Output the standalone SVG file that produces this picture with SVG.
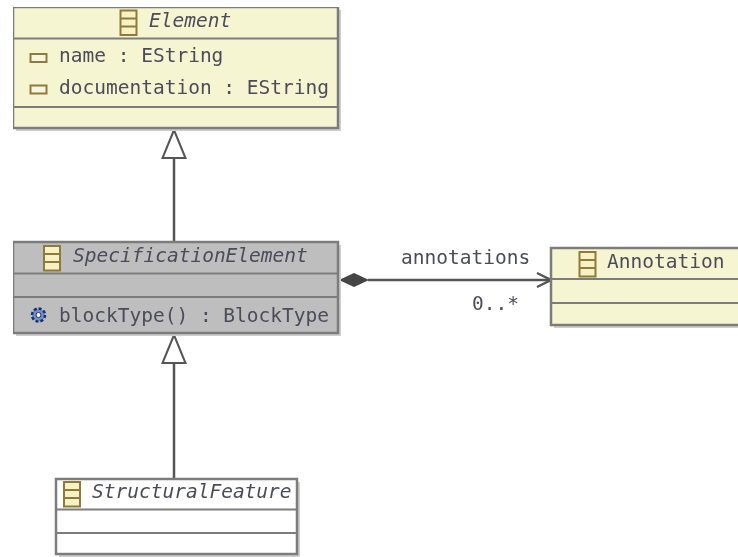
<svg xmlns="http://www.w3.org/2000/svg" width="738" height="557" viewBox="0 0 738 557">
<style>
text{font-family:"DejaVu Sans Mono","Liberation Mono",monospace;font-size:19.5px;fill:#4c4c5a}
.i{font-style:italic}
.box{stroke:#7c7c7c;stroke-width:2.500}
.y{fill:#f5f5d2}.g{fill:#bebebe}.w{fill:#fff}
.div{stroke:#7c7c7c;stroke-width:2;fill:none}
.shadow{fill:#cfcfcf}
.con{stroke:#555;stroke-width:2.500;fill:none}
.ic{fill:#f6f2c4;stroke:#8f7a3a;stroke-width:2}
.at{fill:#f5f5e0;stroke:#8f7a3a;stroke-width:2}
</style>
<defs>
<filter id="soft" x="0" y="0" width="100%" height="100%"><feGaussianBlur stdDeviation="0.45"/></filter>
<g id="cls"><rect x="0" y="0" width="16" height="24.500" class="ic"/><path d="M0 8H16M0 16H16" class="ic"/></g>
<rect id="attr" x="0" y="0" width="16" height="8" class="at"/>
</defs>
<g filter="url(#soft)">
<g id="connectors">
<path class="con" d="M174 158V242"/>
<path d="M174 130L162.500 158H185.500Z" fill="#fff" stroke="#555" stroke-width="2"/>
<path class="con" d="M174 363V479"/>
<path d="M174 335L162.500 363H185.500Z" fill="#fff" stroke="#555" stroke-width="2"/>
<path class="con" d="M368 280H550"/>
<path class="con" d="M537 273L551 280L537 287"/>
<path d="M339 280L354 273L369 280L354 287Z" fill="#444"/>
<text x="401" y="264">annotations</text>
<text x="472" y="310">0..*</text>
</g>
<g id="element">
<rect x="16" y="10" width="325" height="121" class="shadow"/>
<rect x="13" y="7" width="325" height="121" class="y box"/>
<path d="M13 38.500H338M13 107H338" class="div"/>
<use href="#cls" x="120.500" y="10.500"/>
<text x="149" y="27" class="i">Element</text>
<use href="#attr" x="30.500" y="54"/>
<text x="59" y="62">name : EString</text>
<use href="#attr" x="30.500" y="85.500"/>
<text x="59" y="94">documentation : EString</text>
</g>
<g id="specificationelement">
<rect x="16" y="245" width="325" height="91" class="shadow"/>
<rect x="13" y="242" width="325" height="91" class="g box"/>
<path d="M13 273.500H338M13 297H338" class="div"/>
<use href="#cls" x="44" y="246"/>
<text x="73" y="262" class="i">SpecificationElement</text>
<g transform="translate(38.500 315)">
<circle r="6.500" fill="#6f8fd0" stroke="#1f2f66" stroke-width="2.500" stroke-dasharray="3 2"/>
<circle r="2.500" fill="#fff" stroke="#1f2f66" stroke-width="1"/>
</g>
<text x="59" y="322">blockType() : BlockType</text>
</g>
<g id="annotation">
<rect x="554" y="251" width="190" height="77" class="shadow"/>
<rect x="551" y="248" width="190" height="77" class="y box"/>
<path d="M551 279H738M551 303H738" class="div"/>
<use href="#cls" x="579.500" y="252"/>
<text x="607" y="268">Annotation</text>
</g>
<g id="structuralfeature">
<rect x="59" y="482" width="241" height="75" class="shadow"/>
<rect x="56" y="479" width="241" height="75" class="w box"/>
<path d="M56 509.500H297M56 533H297" class="div"/>
<use href="#cls" x="64" y="482"/>
<text x="92" y="498" class="i">StructuralFeature</text>
</g>
</g>
</svg>
